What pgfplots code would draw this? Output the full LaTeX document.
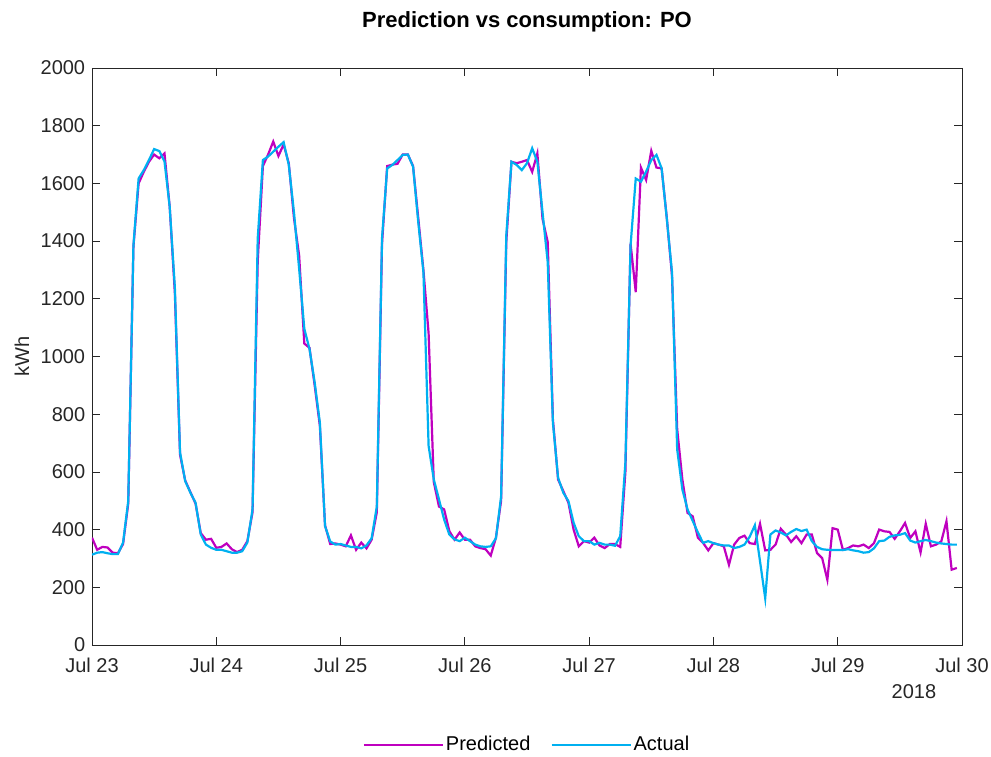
\documentclass[border=0pt]{standalone}
\usepackage{pgfplots}
\pgfplotsset{compat=1.18}
\usepackage{fontspec}
\setmainfont{Liberation Sans}
\definecolor{pred}{RGB}{191,0,191}
\definecolor{act}{RGB}{0,176,240}
\definecolor{axgray}{RGB}{38,38,38}
\begin{document}
\fontsize{20}{24}\selectfont
\begin{tikzpicture}
\useasboundingbox (-92pt,-111pt) rectangle (899pt,645pt);
\begin{axis}[
 name=ax,
 at={(0pt,0pt)}, anchor=south west,
 scale only axis, width=870pt, height=577pt,
 xmin=0, xmax=168, ymin=0, ymax=2000,
 xtick={0,24,48,72,96,120,144,168},
 xticklabels={Jul 23,Jul 24,Jul 25,Jul 26,Jul 27,Jul 28,Jul 29,Jul 30},
 ytick={0,200,...,2000},
 xtick pos=both, ytick pos=both,
 tick align=inside, major tick length=8pt,
 axis line style={axgray, line width=0.8pt},
 every tick/.style={axgray, line width=0.8pt},
 tick label style={font=\fontsize{20}{24}\selectfont, text=axgray},
 xticklabel style={yshift=-6pt},
 /pgf/number format/assume math mode=true,
 /pgf/number format/1000 sep={},
 title={Prediction vs consumption: PO},
 title style={at={(axis description cs:0.5,1)}, anchor=center, yshift=40pt, font=\fontsize{22}{26}\selectfont\bfseries},
 ylabel={kWh},
 ylabel style={at={(axis description cs:-0.0805,0.5)}, anchor=center, text=axgray, font=\fontsize{20}{24}\selectfont},
 legend columns=2,
 legend style={at={(0.5,-0.1733)}, anchor=center, draw=none, fill=none, font=\fontsize{20}{24}\selectfont, /tikz/every even column/.append style={column sep=18pt}},
 legend image code/.code={\draw[#1] (0pt,0pt) -- (79pt,0pt);},
]
\addplot[pred, line width=2.2pt] coordinates {
(0,372)(1,330)(2,340)(3,338)(4,320)(5,318)(6,350)(7,490)(8,1380)(9,1600)(10,1640)(11,1675)(12,1700)(13,1687)(14,1704)(15,1520)(16,1220)(17,660)(18,570)(19,530)(20,490)(21,388)(22,365)(23,368)
(24,337)(25,340)(26,352)(27,332)(28,322)(29,330)(30,360)(31,460)(32,1330)(33,1660)(34,1700)(35,1745)(36,1695)(37,1735)(38,1670)(39,1480)(40,1350)(41,1045)(42,1030)(43,900)(44,760)(45,415)(46,350)(47,352)
(48,348)(49,342)(50,380)(51,330)(52,355)(53,335)(54,365)(55,460)(56,1390)(57,1660)(58,1665)(59,1668)(60,1700)(61,1700)(62,1660)(63,1480)(64,1300)(65,1080)(66,565)(67,480)(68,470)(69,395)(70,365)(71,390)
(72,365)(73,365)(74,342)(75,336)(76,332)(77,310)(78,372)(79,500)(80,1397)(81,1675)(82,1670)(83,1675)(84,1681)(85,1640)(86,1704)(87,1477)(88,1397)(89,783)(90,574)(91,534)(92,493)(93,400)(94,342)(95,360)
(96,355)(97,372)(98,345)(99,336)(100,350)(101,350)(102,340)(103,600)(104,1391)(105,1223)(106,1655)(107,1612)(108,1713)(109,1655)(110,1652)(111,1480)(112,1280)(113,748)(114,574)(115,458)(116,446)(117,372)(118,354)(119,328)
(120,353)(121,348)(122,342)(123,278)(124,348)(125,371)(126,379)(127,353)(128,350)(129,420)(130,328)(131,330)(132,348)(133,403)(134,383)(135,357)(136,377)(137,353)(138,383)(139,383)(140,319)(141,301)(142,226)(143,405)
(144,400)(145,330)(146,336)(147,345)(148,342)(149,348)(150,336)(151,353)(152,400)(153,394)(154,392)(155,368)(156,394)(157,423)(158,371)(159,394)(160,321)(161,420)(162,342)(163,348)(164,359)(165,429)(166,261)(167,267)
};
\addlegendentry{Predicted}
\addplot[act, line width=2.2pt] coordinates {
(0,313)(1,320)(2,322)(3,318)(4,315)(5,315)(6,355)(7,499)(8,1385)(9,1617)(10,1646)(11,1681)(12,1719)(13,1712)(14,1676)(15,1520)(16,1240)(17,668)(18,568)(19,528)(20,493)(21,383)(22,348)(23,337)
(24,330)(25,330)(26,325)(27,320)(28,320)(29,325)(30,355)(31,470)(32,1409)(33,1681)(34,1693)(35,1710)(36,1727)(37,1743)(38,1664)(39,1500)(40,1304)(41,1096)(42,1026)(43,910)(44,771)(45,412)(46,359)(47,348)
(48,350)(49,345)(50,340)(51,340)(52,335)(53,345)(54,370)(55,480)(56,1409)(57,1652)(58,1664)(59,1681)(60,1699)(61,1700)(62,1658)(63,1466)(64,1292)(65,690)(66,574)(67,505)(68,435)(69,383)(70,366)(71,360)
(72,372)(73,360)(74,348)(75,342)(76,340)(77,342)(78,370)(79,515)(80,1420)(81,1675)(82,1664)(83,1646)(84,1670)(85,1722)(86,1675)(87,1500)(88,1327)(89,771)(90,580)(91,528)(92,499)(93,424)(94,377)(95,360)
(96,360)(97,348)(98,354)(99,348)(100,348)(101,344)(102,377)(103,632)(104,1385)(105,1617)(106,1606)(107,1641)(108,1681)(109,1699)(110,1652)(111,1477)(112,1292)(113,678)(114,539)(115,470)(116,430)(117,390)(118,354)(119,360)
(120,353)(121,348)(122,345)(123,345)(124,336)(125,340)(126,348)(127,375)(128,415)(129,290)(130,162)(131,383)(132,397)(133,390)(134,380)(135,392)(136,402)(137,395)(138,400)(139,360)(140,340)(141,332)(142,330)(143,329)
(144,329)(145,329)(146,332)(147,328)(148,325)(149,320)(150,322)(151,335)(152,360)(153,362)(154,375)(155,380)(156,382)(157,388)(158,362)(159,355)(160,360)(161,364)(162,360)(163,355)(164,352)(165,350)(166,348)(167,348)
};
\addlegendentry{Actual}
\end{axis}
\node[anchor=east, text=axgray, xshift=-19pt, yshift=-47pt, font=\fontsize{20}{24}\selectfont] at (ax.south east) {2018};
\end{tikzpicture}
\end{document}
